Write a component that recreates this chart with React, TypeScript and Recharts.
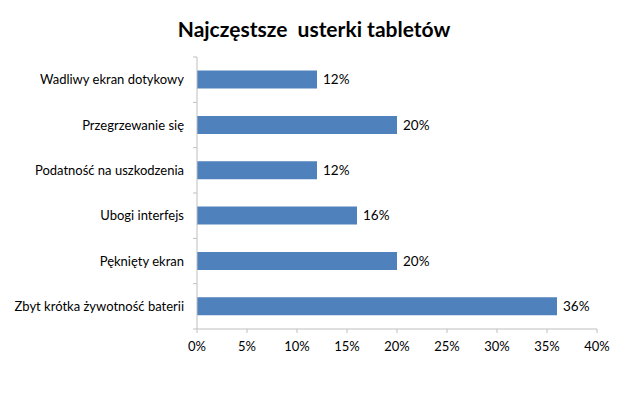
import React from "react";
import { BarChart, Bar, XAxis, YAxis, LabelList } from "recharts";

const categories = [
  "Wadliwy ekran dotykowy",
  "Przegrzewanie się",
  "Podatność na uszkodzenia",
  "Ubogi interfejs",
  "Pęknięty ekran",
  "Zbyt krótka żywotność baterii",
];
const values = [12, 20, 12, 16, 20, 36];
const xTicks = [0, 5, 10, 15, 20, 25, 30, 35, 40];
const title = "Najczęstsze  usterki tabletów";

const data = categories.map((name, i) => ({ name, value: values[i] }));

const W = 628;
const H = 419;
const M = { top: 57, right: 31, bottom: 0, left: 0 };
const Y_W = 197;
const X_H = 90;
const FONT = "Lato, 'Open Sans', sans-serif";
const AXIS = "#bfbfbf";
const band = (H - M.top - M.bottom - X_H) / categories.length;

const CatTick = (props: any) => {
  const { x, y, payload, index } = props;
  const top = y - band / 2;
  return (
    <g>
      <line x1={x - 4} x2={x} y1={top} y2={top} stroke={AXIS} />
      {index === categories.length - 1 ? (
        <line x1={x - 4} x2={x} y1={y + band / 2} y2={y + band / 2} stroke={AXIS} />
      ) : null}
      <text
        x={x - 13}
        y={y}
        dy={4.5}
        textAnchor="end"
        fill="#000"
        fontSize={13}
        fontFamily={FONT}
      >
        {payload.value}
      </text>
    </g>
  );
};

export default function App() {
  return (
    <div
      style={{
        position: "absolute",
        left: 0,
        top: 0,
        width: W,
        height: H,
        background: "#fff",
      }}
    >
      <div
        style={{
          position: "absolute",
          left: 0,
          top: 16,
          width: W,
          textAlign: "center",
          fontFamily: FONT,
          fontWeight: 700,
          fontSize: 21,
          whiteSpace: "pre",
          color: "#000",
        }}
      >
        {title}
      </div>
      <BarChart
        width={W}
        height={H}
        data={data}
        layout="vertical"
        margin={M}
        barCategoryGap="30%"
      >
        <XAxis
          type="number"
          domain={[0, 40]}
          ticks={xTicks}
          interval={0}
          height={X_H}
          tickFormatter={(v: number) => `${v}%`}
          axisLine={{ stroke: AXIS }}
          tickLine={{ stroke: AXIS }}
          tickSize={4}
          tickMargin={9}
          tick={{ fill: "#000", fontSize: 13, fontFamily: FONT }}
        />
        <YAxis
          type="category"
          dataKey="name"
          width={Y_W}
          axisLine={{ stroke: AXIS }}
          tickLine={false}
          tickSize={0}
          tickMargin={0}
          tick={<CatTick />}
          interval={0}
        />
        <Bar dataKey="value" fill="#4f81bd" isAnimationActive={false}>
          <LabelList
            dataKey="value"
            position="right"
            offset={6}
            formatter={(v: any) => `${v}%`}
            fill="#000"
            fontSize={13.5}
            fontFamily={FONT}
          />
        </Bar>
      </BarChart>
    </div>
  );
}
